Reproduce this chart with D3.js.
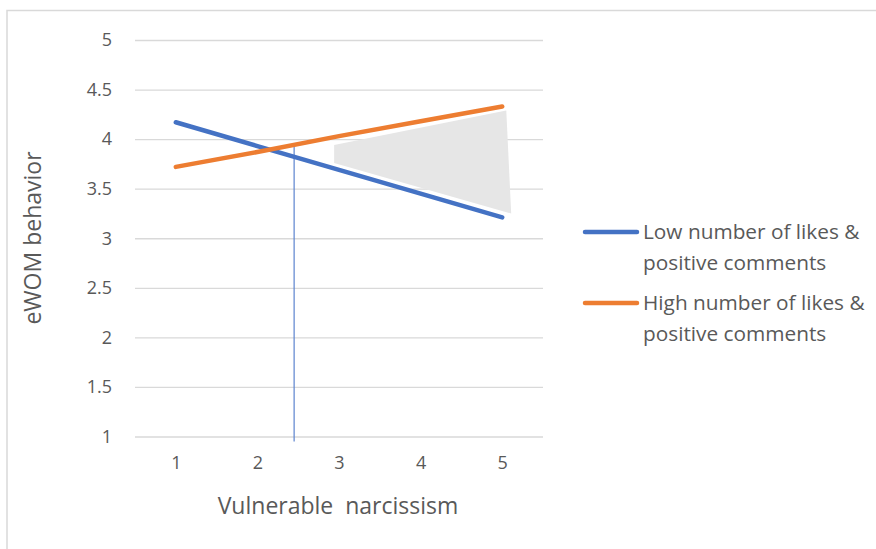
<!DOCTYPE html>
<html>
<head>
<meta charset="utf-8">
<script src="https://cdn.jsdelivr.net/npm/d3@7"></script>
<style>
  body { margin: 0; background: #fff; }
  text { font-family: "Open Sans", Lato, sans-serif; fill: #595959; }
</style>
</head>
<body>
<svg width="876" height="549"></svg>
<script>
// data
const categories = [1, 2, 3, 4, 5];
const lowValues = [4.17, 3.93, 3.69, 3.45, 3.21];
const highValues = [3.72, 3.87, 4.03, 4.18, 4.33];
const yTicks = [1, 1.5, 2, 2.5, 3, 3.5, 4, 4.5, 5];
const seriesNames = ["Low number of likes & positive comments", "High number of likes & positive comments"];
const legendLines = [["Low number of likes &", "positive comments"], ["High number of likes &", "positive comments"]];
// shaded region (x on the category scale, y in eWOM units)
const regionX = [2.94, 5.05, 5.11, 2.94];
const regionY = [3.94, 4.29, 3.25, 3.76];
// vertical marker
const markerX = 2.45;
const markerY = [0.95, 3.93];

const colors = ["#4472C4", "#ED7D31"];

let svg = d3.select("svg");

// frame
svg.append("path")
  .attr("d", "M7,549V10.5H876")
  .attr("fill", "none")
  .attr("stroke", "#d9d9d9")
  .attr("stroke-width", 1.5);

const x = d3.scalePoint().domain(categories).range([135, 543]).padding(0.5);
const xc = d3.scaleLinear().domain([1, 5]).range([x(1), x(5)]);
const y = d3.scaleLinear().domain([1, 5]).range([436.5, 40]);

// y axis + gridlines
let yAxis = svg.append("g")
  .attr("transform", "translate(135,0)")
  .call(d3.axisLeft(y).tickValues(yTicks).tickSize(-408).tickPadding(23).tickFormat(d3.format("")));
yAxis.select(".domain").remove();
yAxis.selectAll("line").attr("stroke", "#d9d9d9").attr("stroke-width", 1.3);
yAxis.selectAll("text").attr("font-size", 18).style("font-family", "'Open Sans', sans-serif").attr("fill", "#595959");

// x axis labels
let xAxis = svg.append("g")
  .attr("transform", "translate(0,436.5)")
  .call(d3.axisBottom(x).tickSize(0).tickPadding(20));
xAxis.select(".domain").remove();
xAxis.selectAll("text").attr("font-size", 18).style("font-family", "'Open Sans', sans-serif").attr("fill", "#595959");

// shaded region
const regionPts = regionX.map((v, i) => [xc(v), y(regionY[i])]);
svg.append("path")
  .attr("d", d3.line()(regionPts) + "Z")
  .attr("fill", "#e6e6e6");

// vertical marker
svg.append("line")
  .attr("x1", xc(markerX)).attr("x2", xc(markerX))
  .attr("y1", y(markerY[0])).attr("y2", y(markerY[1]))
  .attr("stroke", "#5b84cf")
  .attr("stroke-width", 1.2);

// series lines
const line = d3.line().x((d, i) => x(categories[i])).y(d => y(d));
[lowValues, highValues].forEach((vals, k) => {
  svg.append("path")
    .attr("d", line(vals))
    .attr("fill", "none")
    .attr("stroke", colors[k])
    .attr("stroke-width", 4.5)
    .attr("stroke-linecap", "round");
});

// axis titles
svg.append("text")
  .attr("x", 338).attr("y", 514)
  .attr("text-anchor", "middle")
  .attr("font-size", 23)
  .attr("xml:space", "preserve")
  .text("Vulnerable  narcissism");

svg.append("text")
  .attr("transform", "translate(41,238) rotate(-90)")
  .attr("text-anchor", "middle")
  .attr("font-size", 23)
  .text("eWOM behavior");

// legend
const legendY = [232, 303];
seriesNames.forEach((name, k) => {
  let g = svg.append("g").attr("transform", "translate(0," + legendY[k] + ")");
  g.append("line")
    .attr("x1", 585).attr("x2", 637)
    .attr("stroke", colors[k]).attr("stroke-width", 4.5).attr("stroke-linecap", "round");
  legendLines[k].forEach((t, j) => {
    g.append("text")
      .attr("x", 643).attr("y", 7 + j * 30.5)
      .attr("font-size", 20.8)
      .text(t);
  });
});
</script>
</body>
</html>
